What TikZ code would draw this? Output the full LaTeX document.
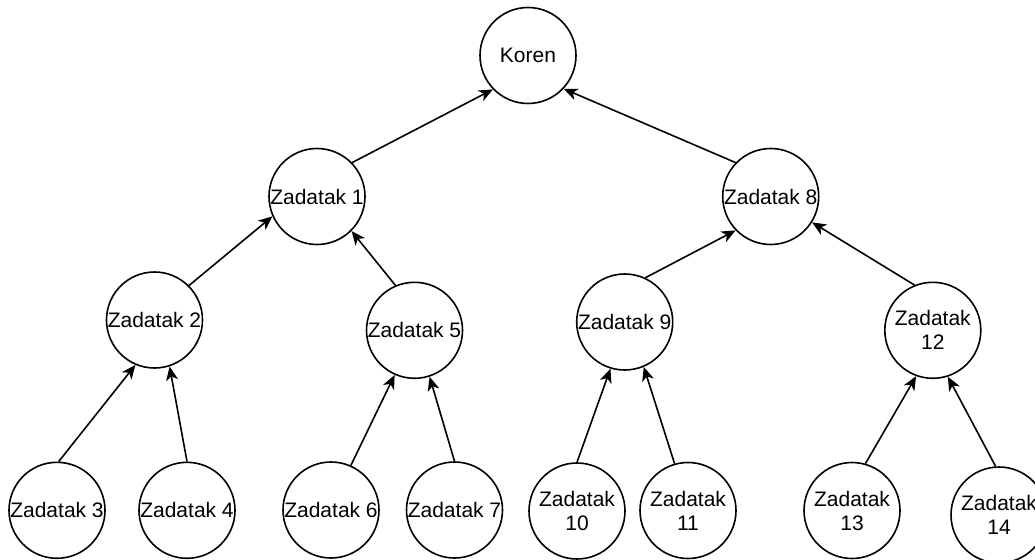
\documentclass[tikz,border=0pt]{standalone}
\usepackage{fontspec}
\setmainfont{Liberation Sans}
\usetikzlibrary{arrows.meta}
\begin{document}
\begin{tikzpicture}[x=1pt,y=-1pt,
  task/.style={circle,draw=black,line width=1.6pt,fill=white,minimum size=96pt,inner sep=0pt},
  lbl/.style={font=\fontsize{21}{24}\selectfont,align=center,inner sep=0pt},
  arr/.style={line width=1.6pt,-{Stealth[length=14pt,width=12pt,inset=4pt]}}]
\useasboundingbox (0,0) rectangle (1035,559);
% task nodes
\node[task] (k)   at (528,55.5) {};
\node[task] (z1)  at (317,196.5) {};
\node[task] (z8)  at (770.7,196.5) {};
\node[task] (z2)  at (154.5,320) {};
\node[task] (z5)  at (414.5,330.3) {};
\node[task] (z9)  at (624.7,322) {};
\node[task] (z12) at (932.8,330.3) {};
\node[task] (z3)  at (57,510.3) {};
\node[task] (z4)  at (187,510.3) {};
\node[task] (z6)  at (331,510) {};
\node[task] (z7)  at (454.5,510) {};
\node[task] (z10) at (577,511) {};
\node[task] (z11) at (688,510.5) {};
\node[task] (z13) at (852,510.5) {};
\node[task] (z14) at (999,515) {};
% labels
\node[lbl] at (k)   {Koren};
\node[lbl] at (z1)  {Zadatak 1};
\node[lbl] at (z8)  {Zadatak 8};
\node[lbl] at (z2)  {Zadatak 2};
\node[lbl] at (z5)  {Zadatak 5};
\node[lbl] at (z9)  {Zadatak 9};
\node[lbl] at (z12) {Zadatak\\12};
\node[lbl] at (z3)  {Zadatak 3};
\node[lbl] at (z4)  {Zadatak 4};
\node[lbl] at (z6)  {Zadatak 6};
\node[lbl] at (z7)  {Zadatak 7};
\node[lbl] at (z10) {Zadatak\\10};
\node[lbl] at (z11) {Zadatak\\11};
\node[lbl] at (z13) {Zadatak\\13};
\node[lbl] at (z14) {Zadatak\\14};
% connectors (child to parent)
\draw[arr] (z1.44)   -- (k.224);
\draw[arr] (z8.136)  -- (k.317);
\draw[arr] (z2.45)   -- (z1.204);
\draw[arr] (z5.113)  -- (z1.315);
\draw[arr] (z9.65)   -- (z8.224);
\draw[arr] (z12.112) -- (z8.328);
\draw[arr] (z3.88)   -- (z2.247);
\draw[arr] (z4.90)   -- (z2.288);
\draw[arr] (z6.66)   -- (z5.246);
\draw[arr] (z7.90)   -- (z5.288);
\draw[arr] (z10.90)  -- (z9.253);
\draw[arr] (z11.106) -- (z9.293);
\draw[arr] (z13.74)  -- (z12.250);
\draw[arr] (z14.94)  -- (z12.288);
\end{tikzpicture}
\end{document}
